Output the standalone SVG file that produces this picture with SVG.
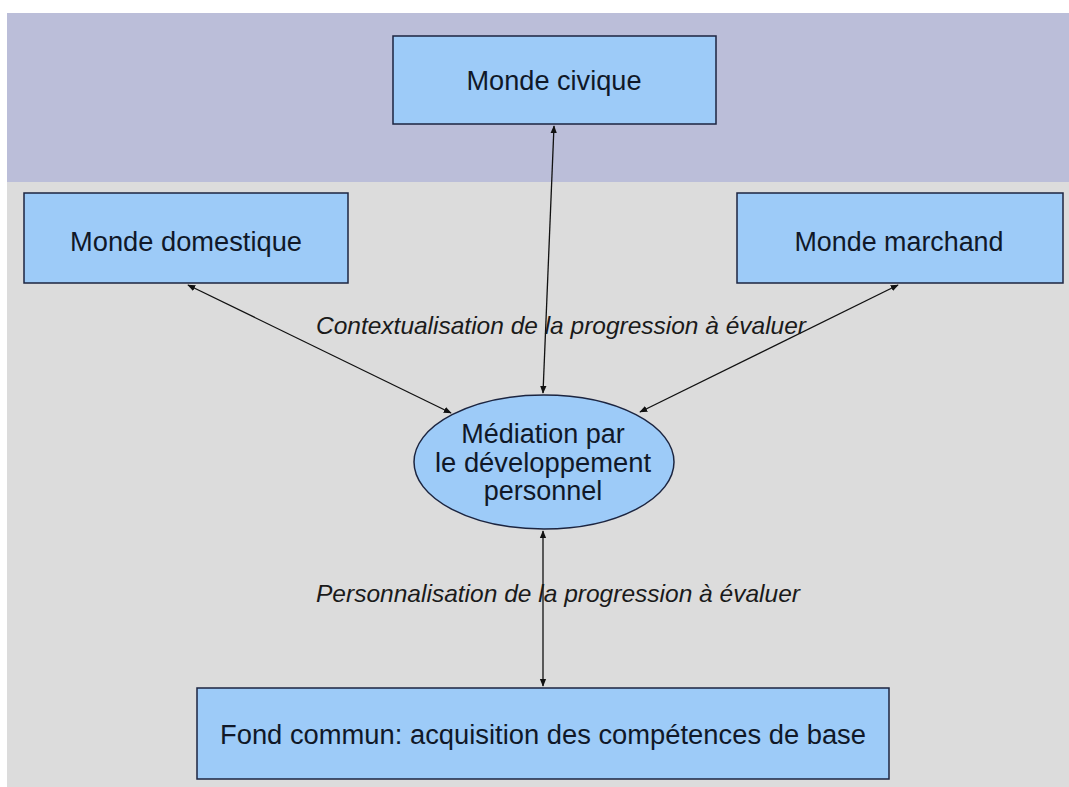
<svg xmlns="http://www.w3.org/2000/svg" width="1069" height="787" viewBox="0 0 1069 787">
<style>
.box{fill:#9DCBF8;stroke:#1C2540;stroke-width:1.5}
.lbl{font-family:"Liberation Sans",Arial,sans-serif;font-size:27px;fill:#101828;text-anchor:middle}
.note{font-family:"Liberation Sans",Arial,sans-serif;font-size:24px;font-style:italic;fill:#1a1a1a}
.conn{stroke:#111;stroke-width:1.3;fill:none;marker-start:url(#ah);marker-end:url(#ah)}
</style>
<defs>
<marker id="ah" viewBox="0 0 10 10" refX="9" refY="5" markerWidth="8" markerHeight="8" markerUnits="userSpaceOnUse" orient="auto-start-reverse">
<path d="M0,1 L10,5 L0,9 Z" fill="#111"/>
</marker>
</defs>
<rect x="0" y="0" width="1069" height="787" fill="#ffffff"/>
<rect x="7" y="13" width="1062" height="169" fill="#BBBED9"/>
<rect x="7" y="182" width="1062" height="605" fill="#DCDCDC"/>
<g id="connectors">
<line class="conn" x1="554" y1="126" x2="543" y2="393"/>
<line class="conn" x1="188" y1="285" x2="451" y2="413"/>
<line class="conn" x1="898" y1="285" x2="640" y2="412"/>
<line class="conn" x1="543" y1="531" x2="543" y2="686"/>
</g>
<g id="civique">
<rect class="box" x="393" y="36" width="323" height="88"/>
<text class="lbl" x="554" y="90" textLength="175" lengthAdjust="spacingAndGlyphs">Monde civique</text>
</g>
<g id="domestique">
<rect class="box" x="24" y="193" width="324" height="90"/>
<text class="lbl" x="186" y="251" textLength="232" lengthAdjust="spacingAndGlyphs">Monde domestique</text>
</g>
<g id="marchand">
<rect class="box" x="737" y="193" width="326" height="90"/>
<text class="lbl" x="899" y="251" textLength="209" lengthAdjust="spacingAndGlyphs">Monde marchand</text>
</g>
<g id="mediation">
<ellipse class="box" cx="544" cy="462" rx="130" ry="67"/>
<text class="lbl" x="543" y="443">Médiation par</text>
<text class="lbl" x="543" y="472" textLength="216" lengthAdjust="spacingAndGlyphs">le développement</text>
<text class="lbl" x="543" y="500">personnel</text>
</g>
<g id="fond">
<rect class="box" x="197" y="688" width="692" height="91"/>
<text class="lbl" x="543" y="744" textLength="646" lengthAdjust="spacingAndGlyphs">Fond commun: acquisition des compétences de base</text>
</g>
<g id="labels">
<text class="note" x="316" y="334" textLength="490" lengthAdjust="spacingAndGlyphs">Contextualisation de la progression à évaluer</text>
<text class="note" x="316" y="602" textLength="484" lengthAdjust="spacingAndGlyphs">Personnalisation de la progression à évaluer</text>
</g>
</svg>
